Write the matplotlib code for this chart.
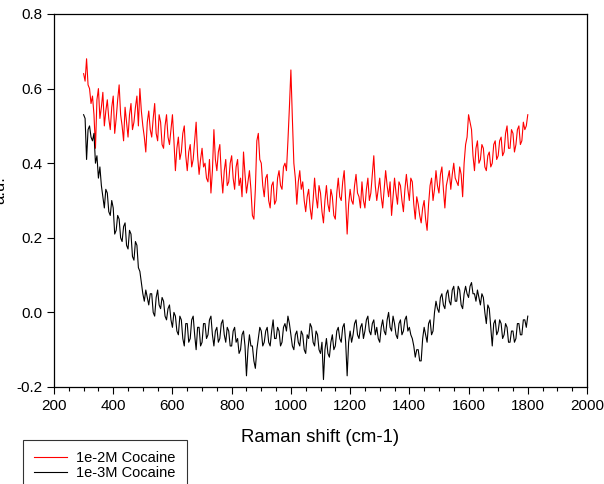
import numpy as np
import matplotlib
matplotlib.use("Agg")
import matplotlib.pyplot as plt
from matplotlib.ticker import MultipleLocator

plt.rcParams['font.family'] = ['Liberation Sans', 'DejaVu Sans']

# Raman shift axis, 300..1800 cm-1 sampled every 5 (one row = 100 cm-1)
shift = np.arange(300, 1801, 5)

cocaine_1e2 = [
    0.64, 0.62, 0.68, 0.61, 0.60, 0.56, 0.58, 0.53, 0.44, 0.57, 0.60, 0.52, 0.55, 0.59, 0.50, 0.54, 0.57, 0.52, 0.49, 0.55,
    0.58, 0.48, 0.52, 0.57, 0.61, 0.53, 0.50, 0.46, 0.55, 0.51, 0.47, 0.53, 0.56, 0.49, 0.51, 0.55, 0.58, 0.50, 0.60, 0.54,
    0.50, 0.47, 0.43, 0.51, 0.54, 0.49, 0.47, 0.52, 0.56, 0.48, 0.46, 0.53, 0.51, 0.45, 0.44, 0.50, 0.53, 0.47, 0.45, 0.49,
    0.53, 0.46, 0.38, 0.44, 0.47, 0.41, 0.43, 0.48, 0.50, 0.42, 0.38, 0.43, 0.45, 0.39, 0.41, 0.46, 0.51, 0.42, 0.37, 0.41,
    0.44, 0.39, 0.40, 0.36, 0.35, 0.41, 0.32, 0.38, 0.49, 0.41, 0.38, 0.43, 0.45, 0.37, 0.32, 0.38, 0.41, 0.34, 0.35, 0.40,
    0.42, 0.36, 0.33, 0.39, 0.41, 0.34, 0.36, 0.31, 0.43, 0.37, 0.32, 0.35, 0.38, 0.33, 0.26, 0.25, 0.33, 0.46, 0.48, 0.41,
    0.40, 0.34, 0.31, 0.36, 0.37, 0.30, 0.28, 0.34, 0.35, 0.29, 0.30, 0.36, 0.38, 0.34, 0.33, 0.39, 0.40, 0.38, 0.46, 0.55,
    0.65, 0.52, 0.40, 0.36, 0.29, 0.35, 0.38, 0.33, 0.35, 0.30, 0.27, 0.31, 0.33, 0.28, 0.25, 0.30, 0.36, 0.31, 0.28, 0.34,
    0.32, 0.27, 0.24, 0.30, 0.34, 0.29, 0.27, 0.33, 0.31, 0.26, 0.25, 0.32, 0.36, 0.31, 0.30, 0.35, 0.38, 0.30, 0.21, 0.29,
    0.33, 0.30, 0.29, 0.34, 0.37, 0.32, 0.31, 0.28, 0.35, 0.30, 0.28, 0.33, 0.36, 0.30, 0.32, 0.37, 0.42, 0.34, 0.30, 0.33,
    0.36, 0.31, 0.28, 0.33, 0.38, 0.34, 0.31, 0.35, 0.26, 0.31, 0.36, 0.32, 0.29, 0.35, 0.34, 0.30, 0.27, 0.33, 0.37, 0.33,
    0.30, 0.36, 0.35, 0.29, 0.25, 0.31, 0.29, 0.26, 0.24, 0.28, 0.30, 0.25, 0.22, 0.29, 0.34, 0.36, 0.30, 0.33, 0.38, 0.34,
    0.32, 0.37, 0.39, 0.33, 0.28, 0.34, 0.36, 0.38, 0.33, 0.37, 0.40, 0.36, 0.35, 0.34, 0.39, 0.37, 0.31, 0.40, 0.45, 0.47,
    0.53, 0.51, 0.49, 0.42, 0.38, 0.44, 0.46, 0.40, 0.41, 0.45, 0.44, 0.39, 0.38, 0.42, 0.43, 0.39, 0.40, 0.45, 0.46, 0.41,
    0.42, 0.46, 0.47, 0.42, 0.43, 0.48, 0.50, 0.44, 0.44, 0.49, 0.48, 0.43, 0.45, 0.49, 0.50, 0.45, 0.46, 0.51, 0.49, 0.50,
    0.53,
]
cocaine_1e3 = [
    0.53, 0.52, 0.41, 0.49, 0.50, 0.47, 0.46, 0.48, 0.40, 0.42, 0.36, 0.39, 0.34, 0.31, 0.28, 0.33, 0.32, 0.27, 0.26, 0.30,
    0.28, 0.21, 0.22, 0.26, 0.25, 0.20, 0.19, 0.23, 0.24, 0.18, 0.17, 0.22, 0.21, 0.15, 0.14, 0.19, 0.18, 0.12, 0.11, 0.08,
    0.05, 0.03, 0.06, 0.04, 0.02, 0.05, 0.05, 0.00, -0.01, 0.04, 0.06, 0.02, 0.01, 0.04, 0.03, -0.01, -0.02, 0.01, 0.02, -0.02,
    -0.04, 0.00, -0.01, -0.05, -0.06, -0.01, -0.02, -0.07, -0.09, -0.03, -0.03, -0.08, -0.07, -0.02, -0.01, -0.06, -0.10, -0.04, -0.04, -0.09,
    -0.08, -0.03, -0.03, -0.07, -0.06, -0.02, -0.01, -0.06, -0.09, -0.05, -0.04, -0.08, -0.07, -0.03, -0.02, -0.06, -0.08, -0.04, -0.05, -0.09,
    -0.09, -0.05, -0.04, -0.08, -0.07, -0.11, -0.10, -0.06, -0.05, -0.09, -0.17, -0.10, -0.06, -0.09, -0.09, -0.13, -0.15, -0.10, -0.07, -0.04,
    -0.05, -0.09, -0.08, -0.05, -0.04, -0.08, -0.09, -0.05, -0.02, -0.07, -0.07, -0.04, -0.05, -0.09, -0.08, -0.04, -0.03, -0.05, -0.01, -0.03,
    -0.06, -0.09, -0.10, -0.06, -0.05, -0.08, -0.09, -0.05, -0.06, -0.10, -0.11, -0.06, -0.07, -0.03, -0.04, -0.08, -0.09, -0.05, -0.06, -0.10,
    -0.11, -0.08, -0.18, -0.10, -0.07, -0.11, -0.12, -0.08, -0.06, -0.10, -0.09, -0.05, -0.04, -0.07, -0.08, -0.04, -0.03, -0.08, -0.17, -0.08,
    -0.05, -0.08, -0.06, -0.03, -0.02, -0.06, -0.07, -0.04, -0.03, -0.07, -0.05, -0.02, -0.01, -0.05, -0.06, -0.03, -0.02, -0.06, -0.04, -0.07,
    -0.08, -0.04, -0.02, -0.05, -0.06, -0.02, 0.00, -0.04, -0.05, -0.01, -0.03, -0.06, -0.07, -0.03, -0.02, -0.06, -0.05, -0.02, -0.01, -0.05,
    -0.04, -0.06, -0.07, -0.09, -0.12, -0.10, -0.10, -0.13, -0.13, -0.07, -0.04, -0.06, -0.08, -0.03, -0.02, -0.06, -0.05, 0.00, 0.03, 0.01,
    0.00, 0.04, 0.05, 0.02, 0.01, 0.05, 0.06, 0.03, 0.02, 0.06, 0.07, 0.03, 0.03, 0.07, 0.06, 0.02, 0.01, 0.05, 0.07, 0.05,
    0.04, 0.07, 0.08, 0.05, 0.05, 0.03, 0.06, 0.04, 0.02, 0.05, 0.04, 0.00, -0.03, 0.02, 0.01, -0.04, -0.09, -0.03, -0.02, -0.06,
    -0.05, -0.02, -0.03, -0.07, -0.06, -0.03, -0.04, -0.08, -0.08, -0.05, -0.05, -0.08, -0.07, -0.03, -0.03, -0.06, -0.06, -0.02, -0.02, -0.04,
    -0.01,
]

fig = plt.figure(figsize=(6.04, 4.84), dpi=100)
ax = fig.add_axes([54 / 604, 97 / 484, 533 / 604, 373 / 484])

ax.plot(shift, cocaine_1e2, color='red', lw=0.8, label='1e-2M Cocaine')
ax.plot(shift, cocaine_1e3, color='black', lw=0.8, label='1e-3M Cocaine')

ax.set_xlim(200, 2000)
ax.set_ylim(-0.2, 0.8)
ax.xaxis.set_major_locator(MultipleLocator(200))
ax.xaxis.set_minor_locator(MultipleLocator(50))
ax.yaxis.set_major_locator(MultipleLocator(0.2))
ax.yaxis.set_major_formatter(plt.FuncFormatter(lambda v, p: f"{v:.1f}"))
ax.tick_params(which='major', direction='out', length=5, width=0.8, labelsize=11)
ax.tick_params(which='minor', direction='out', length=3, width=0.8)
ax.tick_params(top=False, right=False)
for s in ax.spines.values():
    s.set_linewidth(0.9)

ax.set_xlabel('Raman shift (cm-1)', fontsize=13.4, labelpad=12)
# y label sits mostly outside the canvas in the original
fig.text(7 / 604, 0.607, 'a.u.', rotation=90, ha='right', va='center', fontsize=12)

leg = fig.legend(loc='upper left', bbox_to_anchor=(23 / 604, 44 / 484),
                 fontsize=10.5, frameon=True, fancybox=False, edgecolor='black',
                 handlelength=2.3, borderpad=0.75, labelspacing=0.1,
                 handletextpad=0.6, borderaxespad=0)
leg.get_frame().set_linewidth(0.8)

fig.savefig('out.png', dpi=100)
